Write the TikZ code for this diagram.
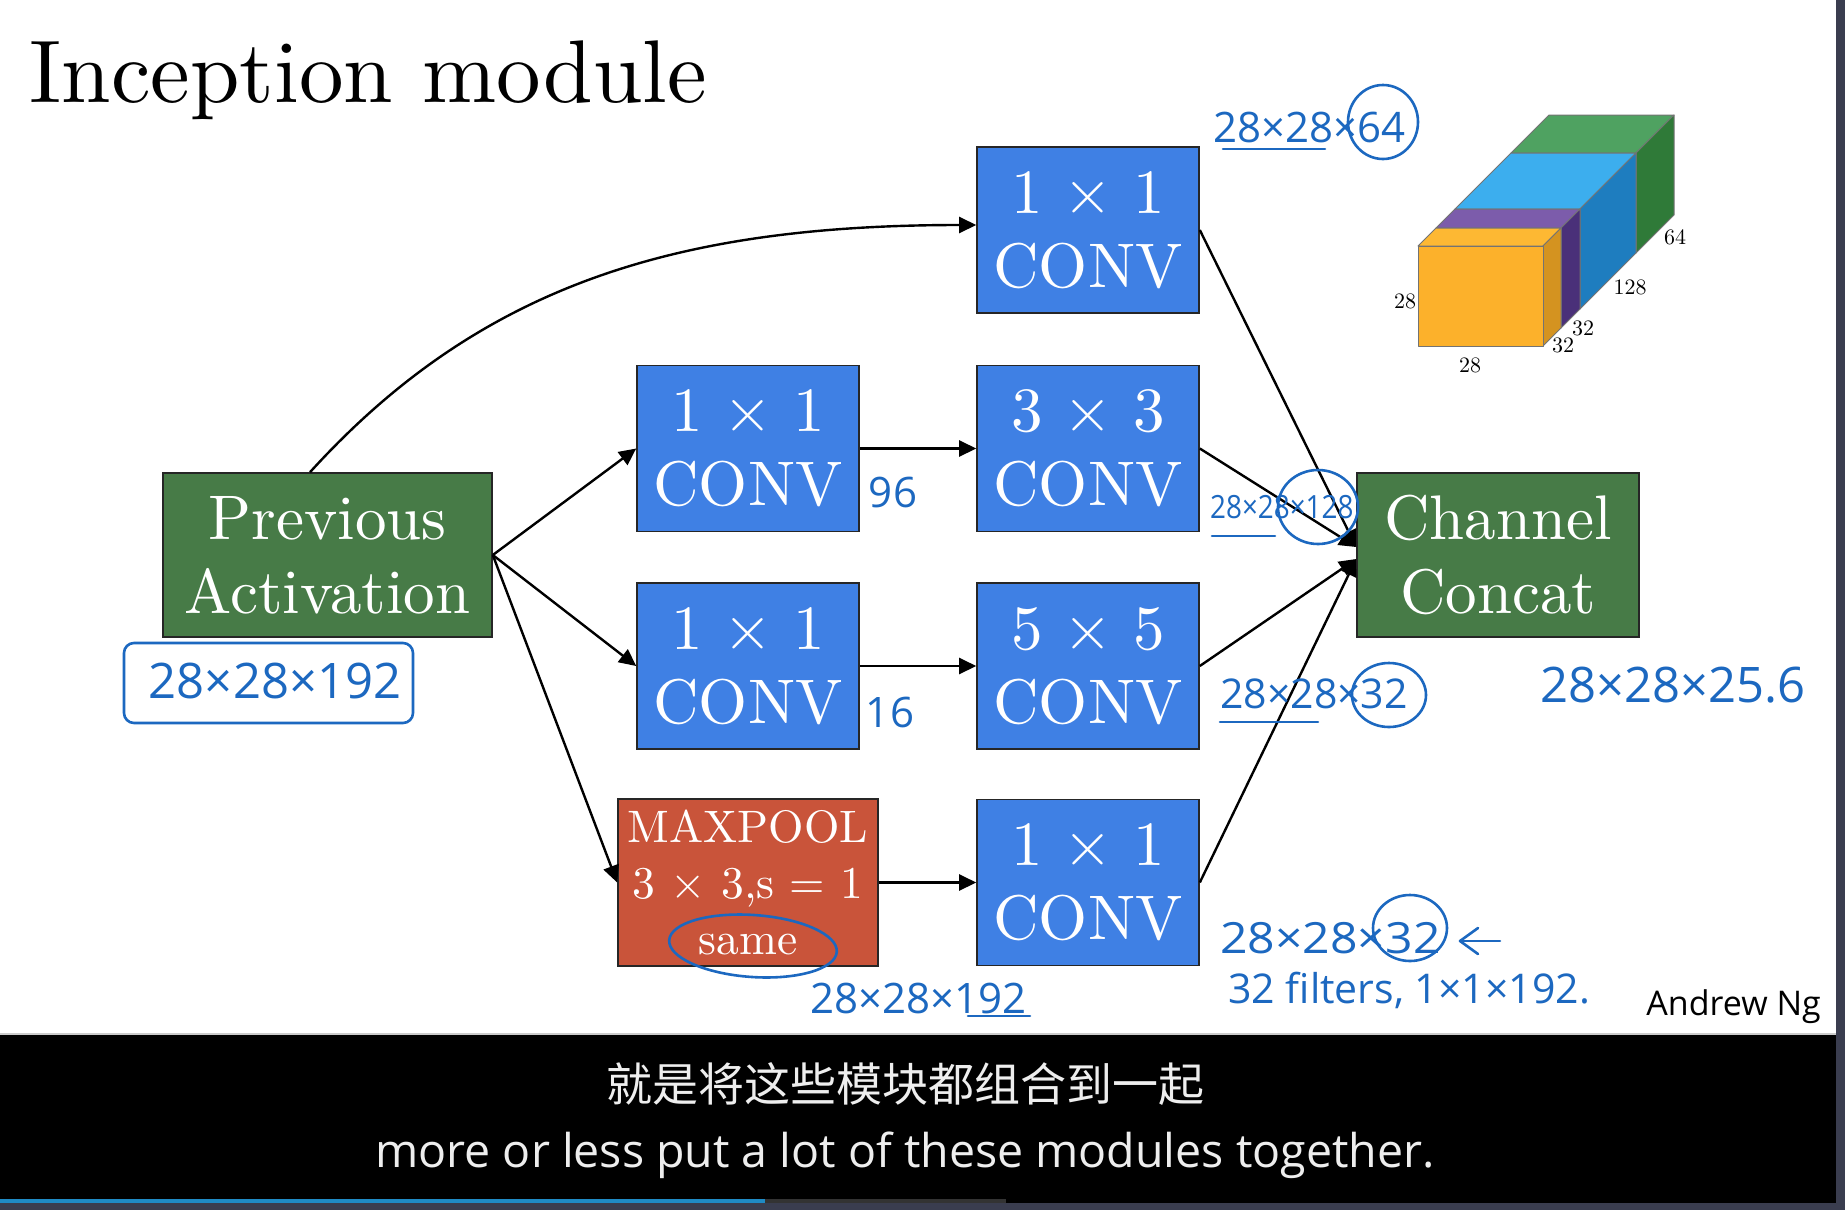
\documentclass[tikz,border=0pt]{standalone}
\usepackage{fontspec}
\usetikzlibrary{arrows.meta,calc}
\newfontfamily\cmten{lmroman10-regular.otf}
\newfontfamily\hand{Open Sans}
\newfontfamily\cjk{Noto Sans CJK SC}
\definecolor{boxblue}{HTML}{3F80E4}
\definecolor{boxgreen}{HTML}{477B47}
\definecolor{boxred}{HTML}{C9543A}
\definecolor{ink}{HTML}{1C68C0}
\definecolor{stripgray}{HTML}{3A3D4F}
\definecolor{progblue}{HTML}{1F8AC4}
\definecolor{subwhite}{HTML}{EEEEEE}
\definecolor{orfront}{HTML}{FCB12B}
\definecolor{ortop}{HTML}{FDB833}
\definecolor{orside}{HTML}{D49320}
\definecolor{putop}{HTML}{7C5CAB}
\definecolor{puside}{HTML}{4A3079}
\definecolor{bltop}{HTML}{3CAEEE}
\definecolor{blside}{HTML}{1E7DBF}
\definecolor{grtop}{HTML}{4FA261}
\definecolor{grside}{HTML}{2F7A38}
\newcommand\cubelayer[4]{%
  \filldraw[fill=#3, cubeedge] (1418+#1,246-#1) -- (1543+#1,246-#1) -- (1543+#2,246-#2) -- (1418+#2,246-#2) -- cycle;
  \filldraw[fill=#4, cubeedge] (1543+#1,246-#1) -- (1543+#1,346-#1) -- (1543+#2,346-#2) -- (1543+#2,246-#2) -- cycle;
}
\tikzset{
  blk/.style={draw=black!85, line width=1.6pt, text=white, align=center, inner sep=0pt,
    font={\cmten\fontsize{63}{74}\selectfont}},
  convbox/.style={blk, fill=boxblue, minimum width=222pt, minimum height=166pt},
  greenbox/.style={blk, fill=boxgreen},
  conn/.style={line width=2.4pt, -{Triangle[length=17pt,width=16pt]}},
  cubeedge/.style={draw=black!55, line width=1pt, line join=round},
  cubelbl/.style={inner sep=0pt, font={\cmten\fontsize{22}{26}\selectfont}},
  hw/.style={text=ink, inner sep=0pt},
  inkline/.style={draw=ink, line width=2.6pt, line cap=round, line join=round}
}
\begin{document}
\begin{tikzpicture}[x=1pt,y=-1pt]
\useasboundingbox (0,0) rectangle (1845,1210);
% background
\fill[white] (0,0) rectangle (1845,1210);
\fill[black] (0,1035) rectangle (1836,1203);
\fill[black!20] (0,1033) rectangle (1836,1035);
\fill[progblue] (0,1199) rectangle (765,1203);
\fill[black!80] (765,1199) rectangle (1006,1203);
\fill[stripgray] (1836,0) rectangle (1845,1210);
\fill[stripgray] (0,1203) rectangle (1845,1210);

% title
\node[anchor=base west, inner sep=0pt, font={\cmten\fontsize{89}{100}\selectfont}] (title) at (29.5,102) {Inception module};

% boxes
\node[greenbox, minimum width=329pt, minimum height=164pt] (prev) at (327.5,555) {Previous\\Activation};
\node[convbox] (c1) at (1088,230) {1 × 1\\CONV};
\node[convbox] (r2a) at (748,448.5) {1 × 1\\CONV};
\node[convbox] (r2b) at (1088,448.5) {3 × 3\\CONV};
\node[convbox] (r3a) at (748,666) {1 × 1\\CONV};
\node[convbox] (r3b) at (1088,666) {5 × 5\\CONV};
\node[blk, fill=boxred, minimum width=260pt, minimum height=167pt, font={\cmten\fontsize{45.5}{56}\selectfont}] (mp) at (748,882.5) {MAXPOOL\\3 × 3,s = 1\\same};
\node[convbox] (r4b) at (1088,882.5) {1 × 1\\CONV};
\node[greenbox, minimum width=282pt, minimum height=164pt] (cc) at (1498,555) {Channel\\Concat};

% connectors
\draw[conn] ([xshift=-17.5pt]prev.north) .. controls +(170,-187) and +(-300,0) .. ([yshift=5pt]c1.west);
\draw[conn] (prev.east) -- (r2a.west);
\draw[conn] (prev.east) -- (r3a.west);
\draw[conn] (prev.east) -- (mp.west);
\draw[conn] (r2a.east) -- (r2b.west);
\draw[conn] (r3a.east) -- (r3b.west);
\draw[conn] (mp.east) -- (r4b.west);
\draw[conn] (c1.east) -- ([yshift=8pt]cc.west);
\draw[conn] (r2b.east) -- ([yshift=8pt]cc.west);
\draw[conn] (r3b.east) -- ([yshift=-4pt]cc.west);
\draw[conn] (r4b.east) -- ([yshift=-4pt]cc.west);

% cube
\cubelayer{93}{131}{grtop}{grside}
\cubelayer{37}{93}{bltop}{blside}
\cubelayer{18}{37}{putop}{puside}
\cubelayer{0}{18}{ortop}{orside}
\filldraw[fill=orfront, cubeedge] (1418,246) rectangle (1543,346);
\node[cubelbl] (l28a) at (1405,301) {28};
\node[cubelbl] (l28b) at (1470,365) {28};
\node[cubelbl] (l32a) at (1563,345) {32};
\node[cubelbl] (l32b) at (1583,328) {32};
\node[cubelbl] (l128) at (1630,287) {128};
\node[cubelbl] (l64) at (1675,237) {64};

% handwritten annotations
\node[hw, anchor=base west, font={\hand\fontsize{42}{48}\selectfont}] (a64) at (1213,142) {28×28×64};
\draw[inkline] (1383,122) ellipse [x radius=35pt, y radius=37pt];
\draw[inkline] (1223,149) -- (1325,149);

\node[hw, font={\hand\fontsize{42}{48}\selectfont}] (a96) at (893,492) {96};
\node[hw, font={\hand\fontsize{42}{48}\selectfont}] (a16) at (890,712) {16};

\node[hw, font={\hand\fontsize{49}{56}\selectfont}] (a192) at (275,681) {28×28×192};
\draw[inkline, rounded corners=10pt] (124,643) rectangle (413,723);

\node[hw, anchor=base west, xscale=0.87, font={\hand\fontsize{32}{38}\selectfont}] (a128) at (1210,518) {28×28×128};
\draw[inkline] (1318,507) ellipse [x radius=40pt, y radius=37pt];
\draw[inkline] (1212,536) -- (1275,536);

\node[hw, anchor=base west, font={\hand\fontsize{41}{48}\selectfont}] (a32m) at (1220,708) {28×28×32};
\draw[inkline] (1389,695) ellipse [x radius=37pt, y radius=32pt];
\draw[inkline] (1220,722) -- (1318,722);

\node[hw, anchor=base west, font={\hand\fontsize{49}{56}\selectfont}] (a256) at (1540,702) {28×28×25.6};

\node[hw, anchor=base west, xscale=1.12, font={\hand\fontsize{43}{50}\selectfont}] (a32b) at (1220,953) {28×28×32};
\draw[inkline] (1410,928) ellipse [x radius=37pt, y radius=33pt];
\draw[inkline] (1500,941) -- (1461,941);
\draw[inkline] (1478,928) -- (1460,941) -- (1478,954);

\node[hw, anchor=base west, font={\hand\fontsize{41}{48}\selectfont}] (afilt) at (1228,1003) {32 filters, 1×1×192.};

\node[hw, anchor=base west, font={\hand\fontsize{42}{48}\selectfont}] (amp) at (810,1013) {28×28×192};
\draw[inkline] (968,1016) -- (1030,1016);

\draw[inkline, rotate around={-4:(753,946)}] (753,946) ellipse [x radius=84pt, y radius=31pt];

% signature
\node[anchor=base east, inner sep=0pt, font={\hand\fontsize{34}{40}\selectfont}] (sig) at (1821,1015) {Andrew Ng};

% subtitles
\node[text=subwhite, inner sep=0pt, font={\cjk\fontsize{46}{50}\selectfont}] (sub1) at (905,1084) {就是将这些模块都组合到一起};
\node[text=subwhite, anchor=base, inner sep=0pt, font={\hand\fontsize{46.5}{52}\selectfont}] (sub2) at (905,1167) {more or less put a lot of these modules together.};
\end{tikzpicture}
\end{document}
